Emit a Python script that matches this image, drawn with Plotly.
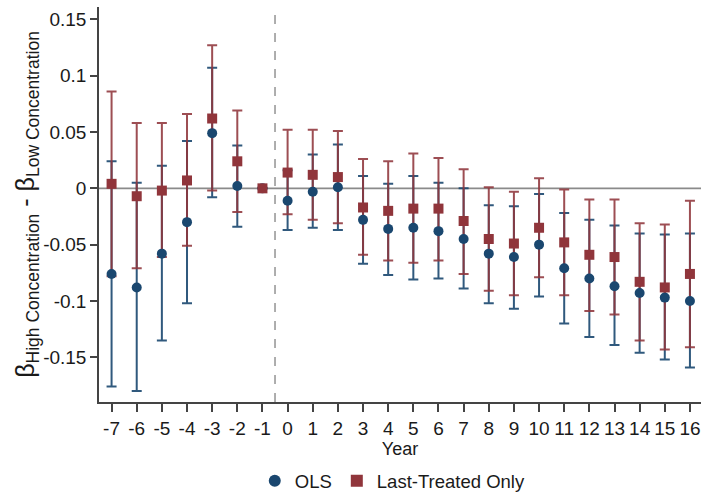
import plotly.graph_objects as go

# Event-study estimates: difference between high- and low-concentration coefficients
years = list(range(-7, 17))

ols_coef = [-0.076, -0.088, -0.058, -0.030, 0.049, 0.002, 0.0, -0.011, -0.003, 0.001,
            -0.028, -0.036, -0.035, -0.038, -0.045, -0.058, -0.061, -0.050, -0.071,
            -0.080, -0.087, -0.093, -0.097, -0.100]
ols_hi = [0.024, 0.005, 0.020, 0.042, 0.107, 0.038, None, 0.016, 0.030, 0.039,
          0.011, 0.004, 0.011, 0.005, 0.000, -0.015, -0.016, -0.005, -0.022,
          -0.028, -0.033, -0.040, -0.041, -0.040]
ols_lo = [-0.176, -0.180, -0.135, -0.102, -0.008, -0.034, None, -0.037, -0.035, -0.037,
          -0.067, -0.077, -0.081, -0.080, -0.089, -0.102, -0.107, -0.096, -0.120,
          -0.132, -0.139, -0.146, -0.152, -0.159]

lt_coef = [0.004, -0.007, -0.002, 0.007, 0.062, 0.024, 0.0, 0.014, 0.012, 0.010,
           -0.017, -0.020, -0.018, -0.018, -0.029, -0.045, -0.049, -0.035, -0.048,
           -0.059, -0.061, -0.083, -0.088, -0.076]
lt_hi = [0.086, 0.058, 0.058, 0.066, 0.127, 0.069, None, 0.052, 0.052, 0.051,
         0.026, 0.024, 0.031, 0.027, 0.017, 0.001, -0.003, 0.009, -0.001,
         -0.010, -0.010, -0.031, -0.032, -0.011]
lt_lo = [-0.078, -0.071, -0.061, -0.051, -0.002, -0.021, None, -0.023, -0.028, -0.031,
         -0.059, -0.064, -0.066, -0.064, -0.076, -0.091, -0.095, -0.079, -0.095,
         -0.109, -0.112, -0.135, -0.143, -0.141]

y_tickvals = [0.15, 0.1, 0.05, 0, -0.05, -0.1, -0.15]
y_ticktext = ["0.15", "0.1", "0.05", "0", "-0.05", "-0.1", "-0.15"]

BLUE = "#1a476f"
RED = "#90353b"
FONT = "Liberation Sans, Arial, sans-serif"


def spans(coef, hi, lo):
    up = [None if h is None else h - c for c, h in zip(coef, hi)]
    dn = [None if l is None else c - l for c, l in zip(coef, lo)]
    return up, dn


ols_up, ols_dn = spans(ols_coef, ols_hi, ols_lo)
lt_up, lt_dn = spans(lt_coef, lt_hi, lt_lo)

fig = go.Figure()

# confidence-interval caps first, so markers sit on top
for coef, up, dn, col in [(ols_coef, ols_up, ols_dn, "rgba(26,71,111,0.9)"),
                          (lt_coef, lt_up, lt_dn, "rgba(144,53,59,0.88)")]:
    fig.add_trace(go.Scatter(
        x=years, y=coef, mode="markers",
        marker=dict(size=1, color="rgba(0,0,0,0)"),
        error_y=dict(type="data", symmetric=False, array=up, arrayminus=dn,
                     color=col, thickness=2, width=5),
        showlegend=False, hoverinfo="skip"))

fig.add_trace(go.Scatter(
    x=years, y=ols_coef, mode="markers", name="OLS",
    marker=dict(symbol="circle", size=10, color=BLUE)))
fig.add_trace(go.Scatter(
    x=years, y=lt_coef, mode="markers", name="Last-Treated Only",
    marker=dict(symbol="square", size=10, color=RED)))

fig.update_layout(
    width=701, height=495,
    margin=dict(l=99, r=0, t=7, b=93),
    paper_bgcolor="white", plot_bgcolor="white",
    font=dict(family=FONT, size=19, color="#1a1a1a"),
    shapes=[
        dict(type="line", xref="paper", yref="y", x0=0, x1=1, y0=0, y1=0,
             line=dict(color="#8a8a8a", width=1.6), layer="below"),
        dict(type="line", xref="x", yref="paper", x0=-0.5, x1=-0.5, y0=0, y1=1,
             line=dict(color="#9a9a9a", width=1.6, dash="dash"), layer="below"),
    ],
    xaxis=dict(
        range=[-7.5, 16.44], tickvals=years, ticktext=[str(y) for y in years],
        showgrid=False, zeroline=False, showline=True, linecolor="#444",
        linewidth=1.5, ticks="outside", ticklen=8, tickcolor="#444", tickwidth=1.5,
        tickfont=dict(size=19),
        title=dict(text="Year", font=dict(size=18), standoff=0)),
    yaxis=dict(
        range=[-0.1897, 0.161], tickvals=y_tickvals, ticktext=y_ticktext,
        showgrid=False, zeroline=False, showline=True, linecolor="#444",
        linewidth=1.5, ticks="outside", ticklen=7, tickcolor="#444", tickwidth=1.5,
        tickfont=dict(size=19),
        title=dict(text="β<sub>High Concentration</sub> - β<sub>Low Concentration</sub>",
                   font=dict(size=25), standoff=1)),
    legend=dict(orientation="h", x=0.488, xanchor="center", xref="paper",
                y=0.028, yanchor="middle", yref="container",
                font=dict(size=18.5), itemsizing="constant"),
)

fig.write_html("out.html")
